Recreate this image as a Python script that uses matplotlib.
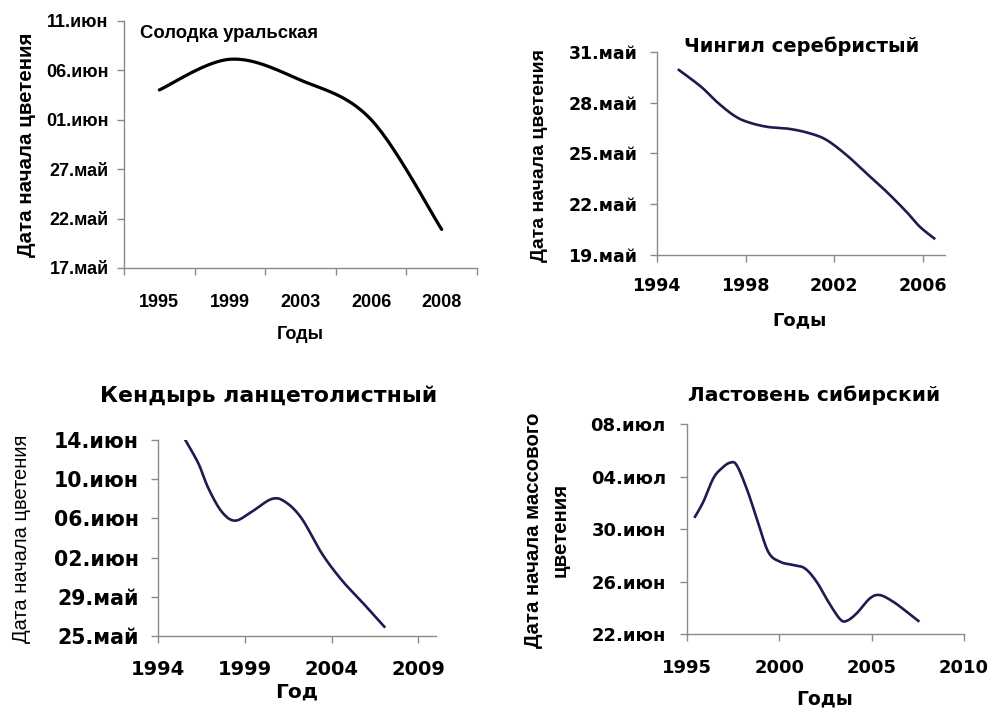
import numpy as np
import matplotlib
matplotlib.use("Agg")
import matplotlib.pyplot as plt
from matplotlib.ticker import FixedLocator, FuncFormatter, NullFormatter

W, H = 990, 708

# ---------------- data (day numbers: May d = d, June d = 31+d, July d = 61+d)
p1_title = "Солодка уральская"
p1_years = ["1995", "1999", "2003", "2006", "2008"]
p1_days = [35.0, 38.1, 36.0, 32.0, 20.9]
p1_yticks = [17, 22, 27, 32, 37, 42]

p2_title = "Чингил серебристый"
p2_years = [1995.0, 1996.0, 1996.7, 1997.45, 1998.05, 1998.95, 2000.0, 2000.9,
            2001.65, 2002.55, 2003.45, 2004.35, 2005.25, 2005.85, 2006.5]
p2_days = [29.92, 28.93, 28.05, 27.26, 26.87, 26.57, 26.44, 26.18,
           25.79, 24.9, 23.82, 22.74, 21.55, 20.67, 19.98]
p2_xticks = [1994, 1998, 2002, 2006]
p2_yticks = [19, 22, 25, 28, 31]

p3_title = "Кендырь ланцетолистный"
p3_years = [1995.58, 1996.31, 1996.89, 1997.66, 1998.43, 1999.39, 2000.54,
            2001.31, 2002.27, 2003.43, 2004.58, 2005.74, 2007.04]
p3_days = [44.93, 42.62, 40.07, 37.68, 36.77, 37.68, 38.98,
           38.7, 37.0, 33.44, 30.71, 28.5, 25.95]
p3_xticks = [1994, 1999, 2004, 2009]
p3_yticks = [25, 29, 33, 37, 41, 45]

p4_title = "Ластовень сибирский"
p4_years = [1995.45, 1995.9, 1996.44, 1996.89, 1997.34, 1997.7, 1998.24, 1998.79,
            1999.41, 2000.05, 2000.77, 2001.4, 2002.03, 2002.66, 2003.29, 2003.65,
            2004.19, 2004.91, 2005.45, 2006.17, 2006.9, 2007.53]
p4_days = [61.95, 63.09, 64.88, 65.64, 66.07, 65.89, 64.11, 61.82,
           59.27, 58.51, 58.26, 58.0, 56.98, 55.46, 54.14, 54.0,
           54.57, 55.72, 55.97, 55.46, 54.7, 54.0]
p4_xticks = [1995, 2000, 2005, 2010]
p4_yticks = [53, 57, 61, 65, 69]


def day_label(v, pos=None):
    d = int(round(v))
    if d <= 31:
        return f"{d:02d}.май"
    if d <= 61:
        return f"{d - 31:02d}.июн"
    return f"{d - 61:02d}.июл"


def smooth(x, y, n=30):
    P = np.column_stack([np.asarray(x, float), np.asarray(y, float)])
    Pp = np.vstack([P[0], P, P[-1]])
    out = []
    t = np.linspace(0, 1, n)[:, None]
    for i in range(len(P) - 1):
        p0, p1, p2, p3 = Pp[i], Pp[i + 1], Pp[i + 2], Pp[i + 3]
        c1 = p1 + (p2 - p0) / 6.0
        c2 = p2 - (p3 - p1) / 6.0
        seg = (1 - t) ** 3 * p1 + 3 * (1 - t) ** 2 * t * c1 + 3 * (1 - t) * t ** 2 * c2 + t ** 3 * p2
        out.append(seg if i == 0 else seg[1:])
    s = np.vstack(out)
    return s[:, 0], s[:, 1]


fig = plt.figure(figsize=(W / 100, H / 100), dpi=100)
fig.patch.set_facecolor("white")

GRAY = "#8a8a8a"
NAVY = "#1d1b4f"
ARIAL = ["Liberation Sans", "DejaVu Sans"]
WIDE = ["DejaVu Sans"]


def make_ax(rect):
    l, t, r, b = rect
    ax = fig.add_axes([l / W, 1 - b / H, (r - l) / W, (b - t) / H])
    for s in ["top", "right"]:
        ax.spines[s].set_visible(False)
    for s in ["left", "bottom"]:
        ax.spines[s].set_color(GRAY)
        ax.spines[s].set_linewidth(1.0)
    ax.tick_params(axis="both", which="both", color=GRAY, labelcolor="black",
                   direction="out", length=5, width=1.0)
    ax.set_facecolor("white")
    return ax


def px2ax(rect, px, py):
    l, t, r, b = rect
    return (px - l) / (r - l), (b - py) / (b - t)


def set_labels(ax, rect, xl, xpos, yl, ypos, title, tpos, fam, xs, ys, ts,
               yfam=ARIAL, yweight="bold", tha="center", linesp=1.2):
    ax.set_xlabel(xl, family=fam, fontsize=xs, fontweight="bold")
    ax.xaxis.set_label_coords(*px2ax(rect, *xpos))
    ax.xaxis.label.set_va("center")
    ax.set_ylabel(yl, family=yfam, fontsize=ys, fontweight=yweight,
                  multialignment="center", linespacing=linesp)
    ax.yaxis.set_label_coords(*px2ax(rect, *ypos))
    ax.yaxis.label.set_va("center")
    tx, ty = px2ax(rect, *tpos)
    ax.text(tx, ty, title, transform=ax.transAxes, ha=tha, va="center",
            family=fam, fontsize=ts, fontweight="bold")


def tick_font(ax, fam, xsize, ysize):
    for lab in ax.get_xticklabels(which="both"):
        lab.set_family(fam)
        lab.set_fontsize(xsize)
        lab.set_fontweight("bold")
    for lab in ax.get_yticklabels():
        lab.set_family(fam)
        lab.set_fontsize(ysize)
        lab.set_fontweight("bold")


# ---------------- Panel 1 (category axis)
r1 = (124, 20.7, 477, 268)
ax1 = make_ax(r1)
xi = np.arange(len(p1_years))
sx, sy = smooth(xi, p1_days)
ax1.plot(sx, sy, color="black", lw=2.3, solid_capstyle="round")
ax1.set_xlim(-0.5, len(p1_years) - 0.5)
ax1.set_ylim(p1_yticks[0], p1_yticks[-1])
ax1.xaxis.set_major_locator(FixedLocator(np.arange(-0.5, len(p1_years))))
ax1.xaxis.set_major_formatter(NullFormatter())
ax1.xaxis.set_minor_locator(FixedLocator(xi))
ax1.set_xticklabels(p1_years, minor=True)
ax1.tick_params(axis="x", which="minor", length=0, pad=19)
ax1.set_yticks(p1_yticks)
ax1.yaxis.set_major_formatter(FuncFormatter(day_label))
ax1.tick_params(axis="y", pad=6)
tick_font(ax1, ARIAL, 13, 13)
set_labels(ax1, r1, "Годы", (300, 335), "Дата начала цветения", (27, 145),
           p1_title, (140, 33), ARIAL, 13, 14.8, 13.3, tha="left")

# ---------------- Panel 2
r2 = (656.7, 51.7, 945.3, 255)
ax2 = make_ax(r2)
sx, sy = smooth(p2_years, p2_days)
ax2.plot(sx, sy, color=NAVY, lw=1.9)
ax2.set_xlim(1994, 2007)
ax2.set_ylim(p2_yticks[0], p2_yticks[-1])
ax2.set_xticks(p2_xticks)
ax2.set_yticks(p2_yticks)
ax2.yaxis.set_major_formatter(FuncFormatter(day_label))
ax2.tick_params(axis="x", pad=11)
ax2.tick_params(axis="y", pad=9)
tick_font(ax2, WIDE, 12.5, 12.5)
set_labels(ax2, r2, "Годы", (800, 320), "Дата начала цветения", (540, 156),
           p2_title, (801.7, 46.7), WIDE, 13, 14, 14)

# ---------------- Panel 3
r3 = (158.3, 440, 435.6, 636)
ax3 = make_ax(r3)
sx, sy = smooth(p3_years, p3_days)
ax3.plot(sx, sy, color=NAVY, lw=1.9)
ax3.set_xlim(1994, 2010)
ax3.set_ylim(p3_yticks[0], p3_yticks[-1])
ax3.set_xticks(p3_xticks)
ax3.set_yticks(p3_yticks)
ax3.yaxis.set_major_formatter(FuncFormatter(day_label))
ax3.tick_params(axis="x", pad=12)
ax3.tick_params(axis="y", pad=9)
tick_font(ax3, WIDE, 14, 14.8)
set_labels(ax3, r3, "Год", (296.7, 692), "Дата начала цветения", (21.7, 539),
           p3_title, (269, 395.7), WIDE, 14.5, 14.5, 15.8, yweight="normal")

# ---------------- Panel 4
r4 = (686.7, 424.3, 964, 634)
ax4 = make_ax(r4)
sx, sy = smooth(p4_years, p4_days)
ax4.plot(sx, sy, color=NAVY, lw=1.9)
ax4.set_xlim(1995, 2010)
ax4.set_ylim(p4_yticks[0], p4_yticks[-1])
ax4.set_xticks(p4_xticks)
ax4.set_yticks(p4_yticks)
ax4.yaxis.set_major_formatter(FuncFormatter(day_label))
ax4.tick_params(axis="x", pad=13)
ax4.tick_params(axis="y", pad=10)
tick_font(ax4, WIDE, 13, 13)
set_labels(ax4, r4, "Годы", (825, 699), "Дата начала массового\nцветения", (547, 530),
           p4_title, (814, 395.7), WIDE, 13.5, 14.7, 14.6, linesp=1.5)

fig.savefig("out.png", dpi=100, facecolor="white")
